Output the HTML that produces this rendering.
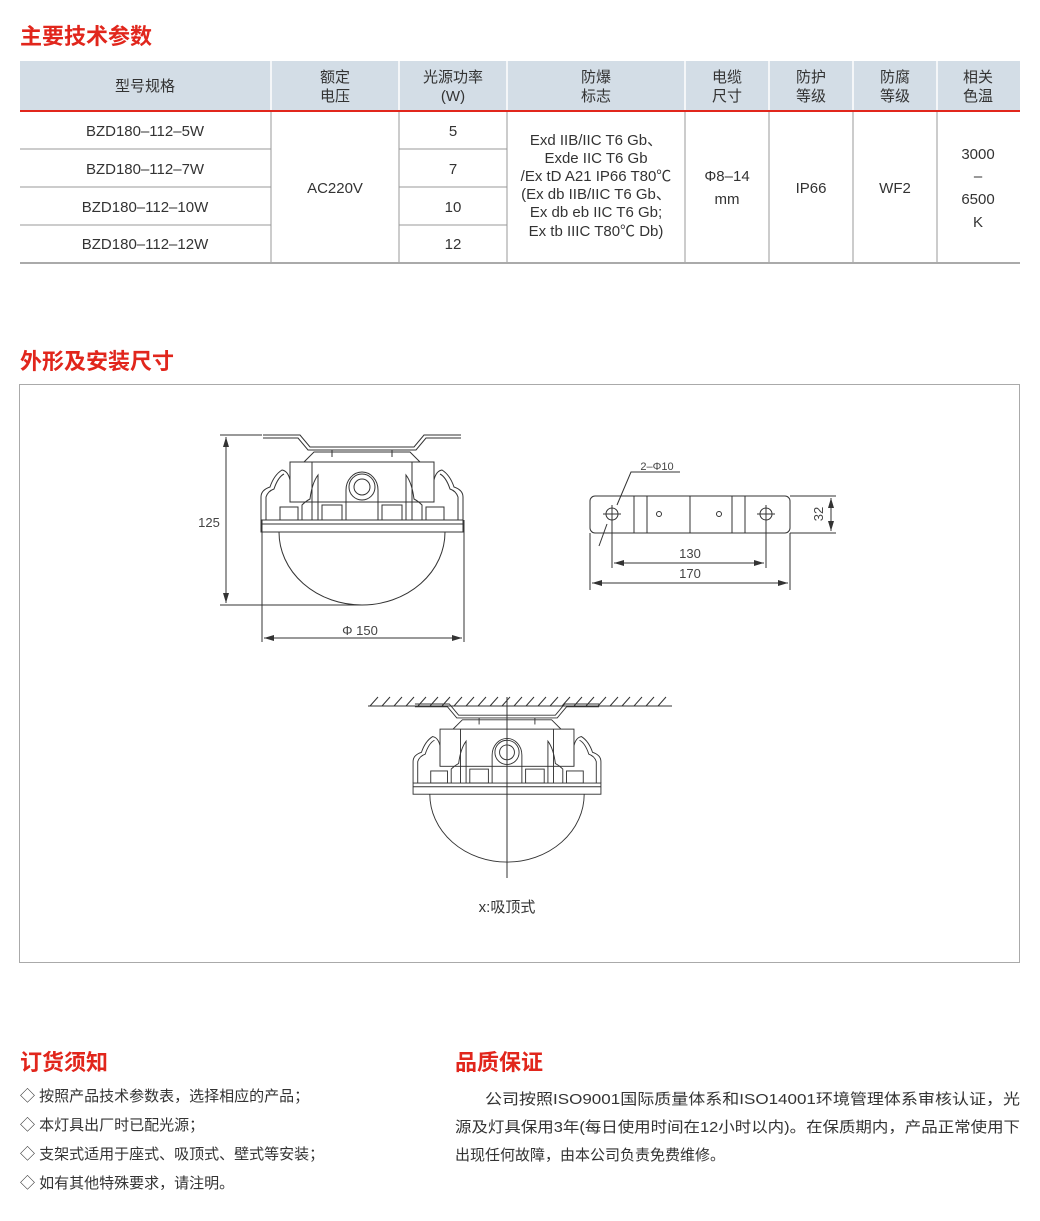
<!DOCTYPE html>
<html><head><meta charset="utf-8"><style>
html,body{margin:0;padding:0;background:#fff}
svg{display:block}
text{font-family:"Liberation Sans","Noto Sans CJK SC",sans-serif;fill:#333}
.t{font-size:15px;text-anchor:middle}
.h{font-size:22px;font-weight:bold;fill:#e1261c}
.d{font-size:13px;fill:#444;text-anchor:middle}
.b{font-size:15px;fill:#333}
.l{stroke:#333;fill:none;stroke-width:1}
</style></head><body>
<svg width="1040" height="1221" viewBox="0 0 1040 1221" xmlns="http://www.w3.org/2000/svg">
<defs>
<marker id="a" viewBox="0 0 10 6" refX="10" refY="3" markerWidth="10" markerHeight="6" orient="auto-start-reverse"><path d="M0 0L10 3L0 6z" fill="#333"/></marker>
<g id="lamp" class="l">
  <polyline points="-99,0 -62,0 -52,12 52,12 62,0 99,0"/>
  <polyline points="-99,3 -64,3 -54,15 54,15 64,3 99,3"/>
  <path d="M-58,27 L-48,17 L48,17 L58,27"/>
  <line x1="-30" y1="15" x2="-30" y2="22"/><line x1="30" y1="15" x2="30" y2="22"/>
  <rect x="-72" y="27" width="144" height="40"/>
  <line x1="-50" y1="27" x2="-50" y2="85"/><line x1="50" y1="27" x2="50" y2="85"/>
  <path d="M-101,85 L-101,62 Q-101,55 -92,52 Q-88,40 -80,35 Q-74,36 -72,45 L-72,67"/>
  <path d="M101,85 L101,62 Q101,55 92,52 Q88,40 80,35 Q74,36 72,45 L72,67"/>
  <path d="M-96,85 L-96,62 Q-94,56 -88,54 Q-84,42 -78,39"/>
  <path d="M96,85 L96,62 Q94,56 88,54 Q84,42 78,39"/>
  <path d="M-60,85 L-60,70 Q-56,66 -52,64 Q-50,48 -44,40 L-44,85"/>
  <path d="M60,85 L60,70 Q56,66 52,64 Q50,48 44,40 L44,85"/>
  <rect x="-82" y="72" width="18" height="13"/><rect x="64" y="72" width="18" height="13"/>
  <rect x="-40" y="70" width="20" height="15"/><rect x="20" y="70" width="20" height="15"/>
  <path d="M-16,85 L-16,55 A16,18 0 0 1 16,55 L16,85"/>
  <circle cx="0" cy="52" r="13"/><circle cx="0" cy="52" r="8"/>
  <rect x="-101" y="85" width="202" height="12"/>
  <line x1="-101" y1="89" x2="101" y2="89"/>
  <path d="M-83,97 A83,73 0 0 0 83,97"/>
</g>
</defs>

<!-- title 1 -->
<text class="h" x="20" y="44">主要技术参数</text>
<!-- table -->
<rect x="20" y="61" width="1000" height="49" fill="#d3dde6"/>
<line x1="20" y1="111" x2="1020" y2="111" stroke="#e1261c" stroke-width="2"/>
<g stroke="#fff" stroke-width="1.5">
<line x1="271" y1="61" x2="271" y2="110"/><line x1="399" y1="61" x2="399" y2="110"/><line x1="507" y1="61" x2="507" y2="110"/><line x1="685" y1="61" x2="685" y2="110"/><line x1="769" y1="61" x2="769" y2="110"/><line x1="853" y1="61" x2="853" y2="110"/><line x1="937" y1="61" x2="937" y2="110"/>
</g>
<g stroke="#999" stroke-width="1">
<line x1="271" y1="112" x2="271" y2="263"/><line x1="399" y1="112" x2="399" y2="263"/><line x1="507" y1="112" x2="507" y2="263"/><line x1="685" y1="112" x2="685" y2="263"/><line x1="769" y1="112" x2="769" y2="263"/><line x1="853" y1="112" x2="853" y2="263"/><line x1="937" y1="112" x2="937" y2="263"/>
<line x1="20" y1="149" x2="271" y2="149"/><line x1="20" y1="187" x2="271" y2="187"/><line x1="20" y1="225" x2="271" y2="225"/>
<line x1="399" y1="149" x2="507" y2="149"/><line x1="399" y1="187" x2="507" y2="187"/><line x1="399" y1="225" x2="507" y2="225"/>
<line x1="20" y1="263" x2="1020" y2="263" stroke="#aaa" stroke-width="2"/>
</g>
<text class="t" x="145" y="91">型号规格</text>
<text class="t" x="335" y="82">额定</text><text class="t" x="335" y="101">电压</text>
<text class="t" x="453" y="82">光源功率</text><text class="t" x="453" y="101">(W)</text>
<text class="t" x="596" y="82">防爆</text><text class="t" x="596" y="101">标志</text>
<text class="t" x="727" y="82">电缆</text><text class="t" x="727" y="101">尺寸</text>
<text class="t" x="811" y="82">防护</text><text class="t" x="811" y="101">等级</text>
<text class="t" x="895" y="82">防腐</text><text class="t" x="895" y="101">等级</text>
<text class="t" x="978" y="82">相关</text><text class="t" x="978" y="101">色温</text>
<text class="t" x="145" y="136">BZD180–112–5W</text>
<text class="t" x="145" y="174">BZD180–112–7W</text>
<text class="t" x="145" y="212">BZD180–112–10W</text>
<text class="t" x="145" y="249">BZD180–112–12W</text>
<text class="t" x="335" y="193">AC220V</text>
<text class="t" x="453" y="136">5</text><text class="t" x="453" y="174">7</text><text class="t" x="453" y="212">10</text><text class="t" x="453" y="249">12</text>
<text class="t" x="596" y="145">Exd IIB/IIC T6 Gb、</text>
<text class="t" x="596" y="163">Exde IIC T6 Gb</text>
<text class="t" x="596" y="181">/Ex tD A21 IP66 T80℃</text>
<text class="t" x="596" y="199">(Ex db IIB/IIC T6 Gb、</text>
<text class="t" x="596" y="217">Ex db eb IIC T6 Gb;</text>
<text class="t" x="596" y="236">Ex tb IIIC T80℃ Db)</text>
<text class="t" x="727" y="181">Φ8–14</text><text class="t" x="727" y="204">mm</text>
<text class="t" x="811" y="193">IP66</text>
<text class="t" x="895" y="193">WF2</text>
<text class="t" x="978" y="159">3000</text><text class="t" x="978" y="181">–</text><text class="t" x="978" y="204">6500</text><text class="t" x="978" y="227">K</text>

<!-- title 2 -->
<text class="h" x="20" y="369">外形及安装尺寸</text>
<rect x="19.5" y="384.5" width="1000" height="578" fill="none" stroke="#aaa"/>

<!-- top lamp -->
<use href="#lamp" transform="translate(362,435)"/>
<g class="l" stroke-width="0.8">
<line x1="220" y1="435" x2="262" y2="435"/><line x1="220" y1="605" x2="362" y2="605"/>
<line x1="226" y1="437" x2="226" y2="603" marker-start="url(#a)" marker-end="url(#a)"/>
<line x1="262" y1="520" x2="262" y2="642"/><line x1="464" y1="520" x2="464" y2="642"/>
<line x1="264" y1="638" x2="462" y2="638" marker-start="url(#a)" marker-end="url(#a)"/>
</g>
<text class="d" x="209" y="527">125</text>
<text class="d" x="360" y="635">Φ 150</text>

<!-- bracket -->
<g class="l" stroke-width="0.9">
<rect x="590" y="496" width="200" height="37" rx="5"/>
<line x1="634" y1="496" x2="634" y2="533"/><line x1="647" y1="496" x2="647" y2="533"/>
<line x1="690" y1="496" x2="690" y2="533"/>
<line x1="732" y1="496" x2="732" y2="533"/><line x1="745" y1="496" x2="745" y2="533"/>
<circle cx="612" cy="514" r="6"/><circle cx="766" cy="514" r="6"/>
<line x1="603" y1="514" x2="621" y2="514"/><line x1="612" y1="505" x2="612" y2="523"/>
<line x1="757" y1="514" x2="775" y2="514"/><line x1="766" y1="505" x2="766" y2="523"/>
<circle cx="659" cy="514" r="2.5"/><circle cx="719" cy="514" r="2.5"/>
<line x1="790" y1="496" x2="836" y2="496"/><line x1="790" y1="533" x2="836" y2="533"/>
<line x1="831" y1="498" x2="831" y2="531" marker-start="url(#a)" marker-end="url(#a)"/>
<line x1="612" y1="520" x2="612" y2="568"/><line x1="766" y1="520" x2="766" y2="568"/>
<line x1="614" y1="563" x2="764" y2="563" marker-start="url(#a)" marker-end="url(#a)"/>
<line x1="590" y1="533" x2="590" y2="590"/><line x1="790" y1="533" x2="790" y2="590"/>
<line x1="592" y1="583" x2="788" y2="583" marker-start="url(#a)" marker-end="url(#a)"/>
<polyline points="680,472 631,472 617,505"/>
<line x1="599" y1="546" x2="607" y2="524"/>
</g>
<text class="d" x="657" y="470" style="font-size:11px">2–Φ10</text>
<text class="d" x="690" y="558">130</text>
<text class="d" x="690" y="578">170</text>
<text class="d" transform="translate(823,514) rotate(-90)" y="0" x="0">32</text>

<!-- ceiling mount -->
<g class="l" stroke-width="0.9">
<line x1="368" y1="706" x2="672" y2="706"/>
<path d="M370,706 l8,-9 M382,706 l8,-9 M394,706 l8,-9 M406,706 l8,-9 M418,706 l8,-9 M430,706 l8,-9 M442,706 l8,-9 M454,706 l8,-9 M466,706 l8,-9 M478,706 l8,-9 M490,706 l8,-9 M502,706 l8,-9 M514,706 l8,-9 M526,706 l8,-9 M538,706 l8,-9 M550,706 l8,-9 M562,706 l8,-9 M574,706 l8,-9 M586,706 l8,-9 M598,706 l8,-9 M610,706 l8,-9 M622,706 l8,-9 M634,706 l8,-9 M646,706 l8,-9 M658,706 l8,-9"/>
<line x1="507" y1="697" x2="507" y2="878"/>
</g>
<g transform="translate(507,704) scale(0.93)"><use href="#lamp"/></g>
<text class="t" x="507" y="912">x:吸顶式</text>

<!-- bottom -->
<text class="h" x="20" y="1070">订货须知</text>
<text class="b" x="20" y="1101">◇ 按照产品技术参数表，选择相应的产品；</text>
<text class="b" x="20" y="1130">◇ 本灯具出厂时已配光源；</text>
<text class="b" x="20" y="1159">◇ 支架式适用于座式、吸顶式、壁式等安装；</text>
<text class="b" x="20" y="1188">◇ 如有其他特殊要求，请注明。</text>
<text class="h" x="455" y="1070">品质保证</text>
<text class="b" x="485" y="1104" textLength="535" lengthAdjust="spacingAndGlyphs">公司按照ISO9001国际质量体系和ISO14001环境管理体系审核认证，光</text>
<text class="b" x="455" y="1132" textLength="565" lengthAdjust="spacingAndGlyphs">源及灯具保用3年(每日使用时间在12小时以内)。在保质期内，产品正常使用下</text>
<text class="b" x="455" y="1160">出现任何故障，由本公司负责免费维修。</text>
</svg>
</body></html>
